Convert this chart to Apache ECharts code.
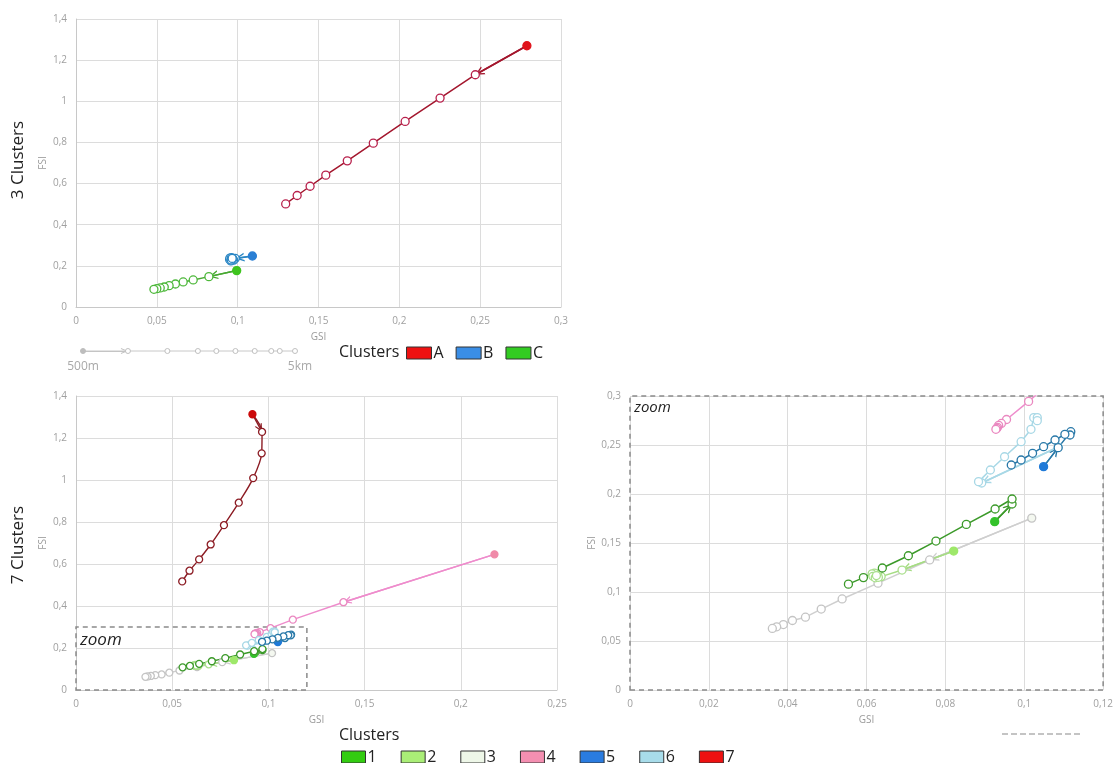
<!DOCTYPE html>
<html><head><meta charset="utf-8">
<script src="https://cdn.jsdelivr.net/npm/echarts@6/dist/echarts.min.js"></script>
<style>html,body{margin:0;padding:0;background:#fff}#c{width:1116px;height:763px}</style>
</head><body><div id="c"></div>
<script>
// ---------- DATA ----------
// 3 clusters (top chart): GSI (x) and FSI (y), from 500m to 5km
const clusters3 = ['A', 'B', 'C'];
const gsiA = [0.2789, 0.2470, 0.2252, 0.2036, 0.1839, 0.1678, 0.1545, 0.1448, 0.1368, 0.1297];
const fsiA = [1.270, 1.129, 1.0155, 0.902, 0.7965, 0.7105, 0.641, 0.587, 0.542, 0.501];
const gsiB = [0.1091, 0.0985, 0.0975, 0.0958, 0.0950, 0.0952, 0.0962, 0.0970, 0.0960, 0.0966];
const fsiB = [0.248, 0.236, 0.228, 0.224, 0.231, 0.238, 0.240, 0.234, 0.229, 0.236];
const gsiC = [0.0994, 0.0822, 0.0725, 0.0663, 0.0615, 0.0576, 0.0546, 0.0521, 0.0500, 0.0482];
const fsiC = [0.177, 0.1476, 0.1314, 0.1217, 0.1119, 0.1038, 0.0973, 0.0925, 0.0892, 0.0860];

// 7 clusters (bottom charts)
const clusters7 = ['1', '2', '3', '4', '5', '6', '7'];
const gsi1 = [0.0925, 0.0969, 0.0969, 0.0926, 0.0853, 0.0776, 0.0706, 0.0640, 0.0592, 0.0554];
const fsi1 = [0.1718, 0.1898, 0.1949, 0.1847, 0.1690, 0.1520, 0.1370, 0.1245, 0.1147, 0.1080];
const gsi2 = [0.0821, 0.0690, 0.0637, 0.0628, 0.0620, 0.0614, 0.0616, 0.0622, 0.0630, 0.0625];
const fsi2 = [0.1418, 0.1224, 0.1157, 0.1178, 0.1192, 0.1185, 0.1160, 0.1145, 0.1150, 0.1168];
const gsi3 = [0.1019, 0.0760, 0.0629, 0.0538, 0.0485, 0.0445, 0.0412, 0.0389, 0.0372, 0.0361];
const fsi3 = [0.1754, 0.1327, 0.1090, 0.0929, 0.0826, 0.0743, 0.0709, 0.0668, 0.0645, 0.0628];
const gsi4 = [0.2175, 0.1390, 0.1127, 0.1011, 0.0955, 0.0942, 0.0935, 0.0932, 0.0930, 0.0928];
const fsi4 = [0.646, 0.418, 0.335, 0.2945, 0.276, 0.272, 0.270, 0.268, 0.267, 0.266];
const gsi5 = [0.1049, 0.1086, 0.1118, 0.1116, 0.1103, 0.1078, 0.1049, 0.1021, 0.0992, 0.0967];
const fsi5 = [0.2279, 0.2473, 0.2636, 0.2602, 0.2609, 0.2551, 0.2483, 0.2415, 0.2347, 0.2296];
const gsi6 = [0.1086, 0.0892, 0.0884, 0.0914, 0.0950, 0.0992, 0.1017, 0.1024, 0.1033, 0.1033];
const fsi6 = [0.2480, 0.2112, 0.2126, 0.2245, 0.2380, 0.2534, 0.2660, 0.2779, 0.2779, 0.2748];
const gsi7 = [0.0917, 0.0967, 0.0965, 0.0921, 0.0846, 0.0769, 0.0700, 0.0640, 0.0590, 0.0552];
const fsi7 = [1.313, 1.229, 1.127, 1.009, 0.892, 0.785, 0.693, 0.622, 0.568, 0.517];

// zoom window
const zoomGsi = [0, 0.12];
const zoomFsi = [0, 0.3];

// distance scale legend (500m ... 5km), relative positions
const scaleSteps = [0, 0.212, 0.398, 0.542, 0.629, 0.719, 0.810, 0.888, 0.928, 1.0];
const scaleLabels = ['500m', '5km'];

// ---------- STYLES ----------
const FONT = '"Open Sans", "Noto Sans", sans-serif';
// open arrow head: tip at the centre of the symbol box, wings behind it
const arrowPath = 'path://M5,0 L5,0 M0,20 L5,10 L10,20 L8.3,20 L5,13.4 L1.7,20 Z';
const sty = {
  A: {line: '#a3162d', mark: '#b8214c', fill: '#e0141c', legend: '#ee1111'},
  B: {line: '#2a86c4', mark: '#2a86c4', fill: '#2a7fd4', legend: '#3a8ee6'},
  C: {line: '#48a832', mark: '#4db83a', fill: '#3ec41e', legend: '#33cc22'},
  '1': {line: '#3c9a2a', mark: '#3c9a2a', fill: '#33c22a', legend: '#33cc11'},
  '2': {line: '#a6dc84', mark: '#a9df8c', fill: '#9ee86a', legend: '#aaee77'},
  '3': {line: '#cfcfcf', mark: '#c4c4c4', fill: '#f4f8f0', fillBorder: '#c4c4c4', legend: '#eef7e8'},
  '4': {line: '#ee8ccc', mark: '#ea88c0', fill: '#f08aa8', legend: '#f48fb1'},
  '5': {line: '#2878a8', mark: '#2878a8', fill: '#1f7ad8', legend: '#2a7ce0'},
  '6': {line: '#a8d8e6', mark: '#a8d8e6', fill: '#bfe6ee', legend: '#a8dcea'},
  '7': {line: '#8c1c24', mark: '#8c1c24', fill: '#cc0a0a', legend: '#ee1111'}
};

const zip = (a, b) => a.map((v, i) => [v, b[i]]);
const fmt = v => String(+(+v).toFixed(3)).replace('.', ',');

function zoomArea(fontSize) {
  return {
    silent: true,
    itemStyle: {color: 'rgba(0,0,0,0)', borderColor: '#8a8a8a', borderWidth: 1.5, borderType: [5, 4]},
    label: {show: true, position: 'insideTopLeft', formatter: 'zoom', fontStyle: 'italic',
            fontSize: fontSize, color: '#222', fontFamily: FONT},
    data: [[{coord: [zoomGsi[0], zoomFsi[0]]}, {coord: [zoomGsi[1], zoomFsi[1]]}]]
  };
}

function makeSeries(name, gsi, fsi, axisIdx, opts) {
  const s = sty[name];
  const pts = zip(gsi, fsi);
  const sz = opts.size || 8;
  const line = {
    name: name, type: 'line', xAxisIndex: axisIdx, yAxisIndex: axisIdx,
    symbol: 'circle', symbolSize: sz, smooth: opts.smooth || false,
    lineStyle: {color: s.line, width: opts.width || 1.5},
    itemStyle: {color: '#fff', borderColor: s.mark, borderWidth: 1.3},
    emphasis: {disabled: true}, z: 4, animation: false,
    data: pts.map((p, i) => i === 0 ? {value: p, itemStyle: {color: s.fill, borderColor: s.fillBorder || s.fill}} : p)
  };
  if (opts.markArea) line.markArea = opts.markArea;
  const a = opts.arrow || 9;
  const arrow = {
    name: name, type: 'lines', coordinateSystem: 'cartesian2d',
    xAxisIndex: axisIdx, yAxisIndex: axisIdx,
    symbol: ['none', arrowPath], symbolSize: [0, [a, a * 2]],
    lineStyle: {color: s.line, width: opts.width || 1.5, opacity: 1},
    z: 3, animation: false, silent: true,
    data: [{coords: [pts[0], pts[1]]}]
  };
  return [line, arrow];
}

function xAx(idx, max, interval, showLine) {
  return {
    type: 'value', gridIndex: idx, min: 0, max: max, interval: interval,
    name: 'GSI', nameLocation: 'middle', nameGap: 25,
    nameTextStyle: {color: '#9a9a9a', fontSize: 10, fontFamily: FONT},
    axisLine: {show: showLine, lineStyle: {color: '#c8c8c8'}},
    axisTick: {show: false},
    axisLabel: {color: '#a0a0a0', fontSize: 10, fontFamily: FONT, margin: 9, formatter: fmt},
    splitLine: {lineStyle: {color: '#dcdcdc'}}
  };
}
function yAx(idx, max, interval, showLine, nameGap) {
  return {
    type: 'value', gridIndex: idx, min: 0, max: max, interval: interval,
    name: 'FSI', nameLocation: 'middle', nameGap: nameGap, nameRotate: 90,
    nameTextStyle: {color: '#9a9a9a', fontSize: 10, fontFamily: FONT},
    axisLine: {show: showLine, lineStyle: {color: '#c8c8c8'}},
    axisTick: {show: false},
    axisLabel: {color: '#a0a0a0', fontSize: 10, fontFamily: FONT, margin: 9, formatter: fmt},
    splitLine: {lineStyle: {color: '#dcdcdc'}}
  };
}

const series = [];
const topData = {A: [gsiA, fsiA], B: [gsiB, fsiB], C: [gsiC, fsiC]};
clusters3.forEach(n => series.push(...makeSeries(n, topData[n][0], topData[n][1], 0, {size: 8})));

const botData = {
  '1': [gsi1, fsi1], '2': [gsi2, fsi2], '3': [gsi3, fsi3], '4': [gsi4, fsi4],
  '5': [gsi5, fsi5], '6': [gsi6, fsi6], '7': [gsi7, fsi7]
};
const drawOrder = ['3', '2', '1', '4', '6', '5', '7'];
drawOrder.forEach(n => series.push(...makeSeries(n, botData[n][0], botData[n][1], 1, {
  size: 7, smooth: n === '7' ? 0.3 : false, width: 1.4, arrow: 8,
  markArea: n === '3' ? zoomArea(17) : null
})));
drawOrder.forEach(n => series.push(...makeSeries(n, botData[n][0], botData[n][1], 2, {
  size: 8, width: 1.5, arrow: 9,
  markArea: n === '3' ? zoomArea(15) : null
})));

// distance scale legend
const scalePts = scaleSteps.map(v => [v, 0]);
series.push({
  name: 'scale', type: 'line', xAxisIndex: 3, yAxisIndex: 3, symbol: 'circle', symbolSize: 5,
  lineStyle: {color: '#c8c8c8', width: 1}, itemStyle: {color: '#fff', borderColor: '#c0c0c0', borderWidth: 1},
  animation: false, silent: true,
  data: scalePts.map((p, i) => i === 0 ? {value: p, itemStyle: {color: '#bdbdbd', borderColor: '#bdbdbd'}} : p)
});
series.push({
  name: 'scale', type: 'lines', coordinateSystem: 'cartesian2d', xAxisIndex: 3, yAxisIndex: 3,
  symbol: ['none', arrowPath], symbolSize: [0, [6, 14]], lineStyle: {color: '#c0c0c0', width: 1, opacity: 1},
  animation: false, silent: true, z: 1, data: [{coords: [scalePts[0], scalePts[1]]}]
});

const legendItem = (n) => ({name: n, icon: 'rect', itemStyle: {color: sty[n].legend, borderColor: '#333', borderWidth: 1}});

const option = {
  animation: false,
  backgroundColor: '#fff',
  textStyle: {fontFamily: FONT},
  grid: [
    {left: 76, top: 19, width: 485, height: 288},
    {left: 76, top: 396, width: 481, height: 294},
    {left: 630, top: 396, width: 475, height: 294},
    {left: 83, top: 341, width: 212, height: 20}
  ],
  xAxis: [
    xAx(0, 0.3, 0.05, true),
    xAx(1, 0.25, 0.05, true),
    xAx(2, zoomGsi[1], 0.02, false),
    {type: 'value', gridIndex: 3, min: 0, max: 1, show: false}
  ],
  yAxis: [
    yAx(0, 1.4, 0.2, true, 28),
    yAx(1, 1.4, 0.2, true, 28),
    yAx(2, zoomFsi[1], 0.05, false, 31),
    {type: 'value', gridIndex: 3, min: -1, max: 1, show: false}
  ],
  legend: [
    {
      left: 406, top: 345, itemWidth: 25, itemHeight: 12, itemGap: 12, padding: 0,
      selectedMode: false,
      textStyle: {fontSize: 16, color: '#222', fontFamily: FONT, padding: [0, 0, 0, -3]},
      data: clusters3.map(legendItem)
    },
    {
      left: 341, top: 749, itemWidth: 24, itemHeight: 12, itemGap: 24, padding: 0,
      selectedMode: false,
      textStyle: {fontSize: 16, color: '#222', fontFamily: FONT, padding: [0, 0, 0, -3]},
      data: clusters7.map(legendItem)
    }
  ],
  graphic: [
    {type: 'text', x: 18, y: 160, rotation: Math.PI / 2,
     style: {text: '3 Clusters', font: '17px ' + FONT, fill: '#222', align: 'center', verticalAlign: 'middle'}},
    {type: 'text', x: 18, y: 545, rotation: Math.PI / 2,
     style: {text: '7 Clusters', font: '17px ' + FONT, fill: '#222', align: 'center', verticalAlign: 'middle'}},
    {type: 'text', x: 339, y: 352,
     style: {text: 'Clusters', font: '16px ' + FONT, fill: '#222', align: 'left', verticalAlign: 'middle'}},
    {type: 'text', x: 339, y: 735,
     style: {text: 'Clusters', font: '16px ' + FONT, fill: '#222', align: 'left', verticalAlign: 'middle'}},
    {type: 'text', x: 83, y: 367,
     style: {text: scaleLabels[0], font: '12px ' + FONT, fill: '#a8a8a8', align: 'center', verticalAlign: 'middle'}},
    {type: 'text', x: 300, y: 367,
     style: {text: scaleLabels[1], font: '12px ' + FONT, fill: '#a8a8a8', align: 'center', verticalAlign: 'middle'}},
    {type: 'line', shape: {x1: 1002, y1: 734, x2: 1080, y2: 734},
     style: {stroke: '#c4c4c4', lineWidth: 2, lineDash: [6, 3]}}
  ],
  series: series
};

const chart = echarts.init(document.getElementById('c'), null, {renderer: 'canvas'});
chart.setOption(option);
</script>
</body></html>
